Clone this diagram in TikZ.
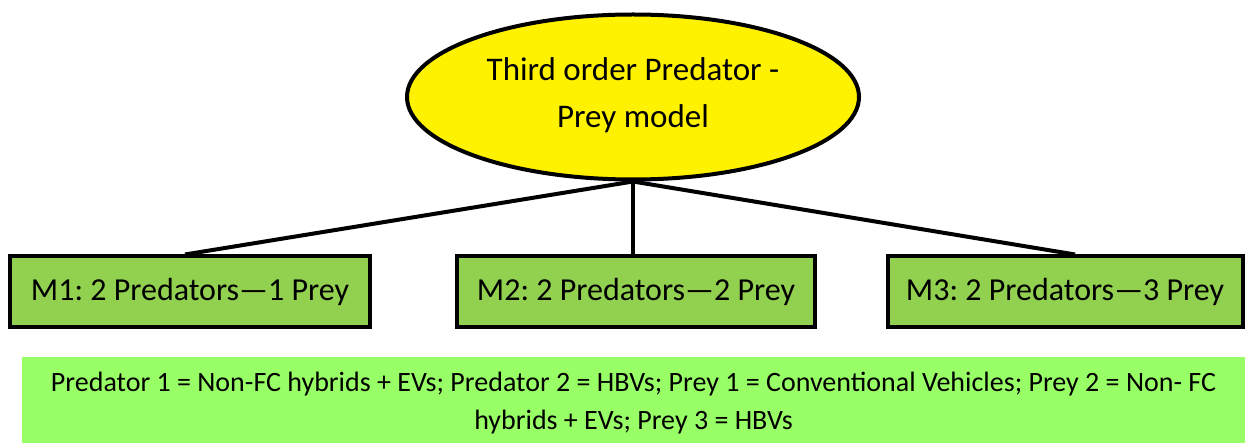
\documentclass[tikz,border=0pt]{standalone}
\usepackage{fontspec}
\setmainfont{Carlito}
\usetikzlibrary{shapes.geometric}
\definecolor{boxgreen}{HTML}{92D050}
\definecolor{notegreen}{HTML}{99FF66}
\frenchspacing
\tikzset{
  model/.style={draw=black, line width=4pt, fill=boxgreen, minimum height=71pt,
    inner sep=0pt, font=\fontsize{32}{38}\selectfont},
  link/.style={line width=4pt, black},
}
\begin{document}
\begin{tikzpicture}[x=1pt, y=-1pt]
  \useasboundingbox (0,0) rectangle (1247,443);
  % legend strip along the bottom (runs off the lower edge)
  \node[fill=notegreen, minimum width=1223pt, minimum height=92pt, inner sep=0pt,
        align=center, font=\fontsize{28}{38}\selectfont] (note) at (633.5,403)
    {Predator 1 = Non-FC hybrids + EVs; Predator 2 = HBVs; Prey 1 = Conventional Vehicles; Prey 2 = Non- FC\\
     hybrids + EVs; Prey 3 = HBVs};
  % the three sub-models
  \node[model, minimum width=360pt] (m1) at (190,292) {M1: 2 Predators—1 Prey};
  \node[model, minimum width=358pt] (m2) at (636,292) {M2: 2 Predators—2 Prey};
  \node[model, minimum width=355pt] (m3) at (1065,292) {M3: 2 Predators—3 Prey};
  % root model
  \node[ellipse, draw=black, line width=4pt, fill=yellow, minimum width=452pt,
        minimum height=165pt, inner sep=0pt, align=center,
        font=\fontsize{33}{47}\selectfont] (top) at (633,97)
    {Third order Predator -\\Prey model\vspace{4pt}};
  \draw[link] (top.south) -- ([xshift=-5pt]m1.north);
  \draw[link] (top.south) -- (top.south |- m2.north);
  \draw[link] (top.south) -- ([xshift=10pt]m3.north);
\end{tikzpicture}
\end{document}
